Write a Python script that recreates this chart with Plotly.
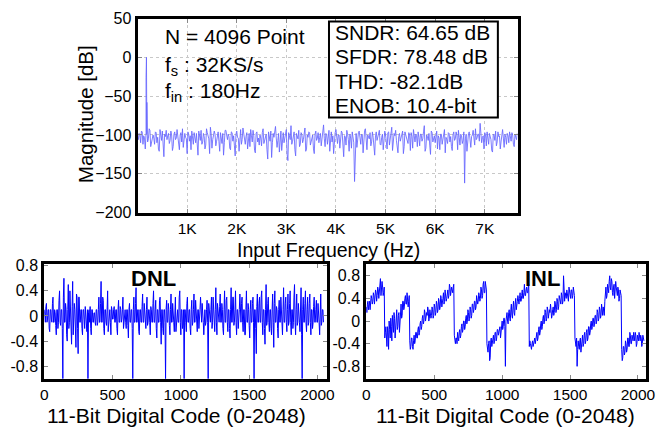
import numpy as np
import plotly.graph_objects as go

# ---------------- data ----------------
FS = 32000          # sample rate, S/s
N_FFT = 4096        # FFT length
BIN_STEP = 4        # spacing (in FFT bins) of each listed spectrum series

# output spectrum noise floor (dB), bins 0, 4, 8, ...
noise_db = [
    -103, -98, -110, -96, -101, -118, -99, -105, -94, -108, -100, -112, -97, -103, -121, -99, -95, -128, -102, -106,
    -98, -107, -100, -115, -96, -104, -101, -119, -97, -92, -108, -103, -124, -99, -101, -95, -112, -104, -98, -126,
    -100, -94, -109, -102, -113, -97, -105, -90, -117, -101, -99, -108, -96, -121, -103, -98, -110, -94, -106, -102,
    -119, -97, -101, -127, -95, -104, -99, -112, -91, -106, -102, -118, -98, -93, -109, -101, -123, -96, -104, -100,
    -114, -92, -107, -99, -131, -101, -95, -110, -103, -89, -116, -98, -105, -120, -97, -102, -93, -133, -100, -88,
    -108, -96, -127, -101, -94, -112, -99, -106, -91, -118, -103, -97, -109, -100, -124, -95, -104, -110, -98, -102,
    -87, -115, -99, -105, -121, -96, -101, -108, -93, -111, -100, -103, -97, -128, -102, -94, -106, -99, -117, -101,
    -160, -98, -104, -95, -112, -100, -107, -92, -119, -102, -97, -109, -103, -126, -96, -101, -94, -113, -99, -105,
    -100, -118, -96, -103, -90, -111, -101, -107, -123, -98, -104, -95, -115, -100, -106, -97, -120, -102, -93, -109,
    -101, -96, -114, -99, -105, -88, -117, -102, -98, -125, -97, -104, -110, -95, -101, -119, -99, -106, -93, -103,
    -111, -98, -102, -120, -96, -105, -100, -94, -113, -101, -107, -162, -99, -103, -96, -116, -100, -108, -92, -104,
    -99, -85, -110, -101, -97, -114, -103, -98, -106, -122, -100, -95, -109, -102, -118, -97, -104, -99, -112, -101,
    -96, -108, -100, -115, -103, -98,
]

# output spectrum noise floor (dB), bins 2, 6, 10, ...
noise_db_mid = [
    -106, -100, -95, -112, -104, -97, -109, -92, -115, -101, -104, -96, -110, -118, -93, -107, -113, -99, -94, -101,
    -111, -95, -120, -99, -106, -93, -113, -100, -109, -116, -98, -105, -96, -108, -119, -102, -97, -110, -122, -95,
    -107, -112, -98, -118, -92, -103, -124, -99, -106, -95, -114, -101, -108, -97, -111, -126, -94, -104, -99, -117,
    -96, -108, -114, -99, -103, -121, -93, -106, -100, -112, -97, -105, -115, -101, -94, -120, -98, -109, -113, -104,
    -97, -111, -100, -119, -96, -108, -129, -98, -91, -104, -107, -122, -95, -101, -110, -99, -125, -97, -106, -112,
    -101, -119, -98, -105, -115, -97, -110, -93, -121, -100, -96, -113, -102, -118, -99, -107, -97, -103, -114, -95,
    -105, -98, -112, -94, -103, -109, -124, -97, -106, -100, -117, -95, -108, -101, -113, -99, -121, -104, -96, -110,
    -102, -116, -97, -108, -99, -123, -94, -111, -100, -105, -114, -96, -120, -101, -107, -98, -112, -103, -119, -95,
    -109, -97, -113, -101, -120, -98, -94, -115, -102, -108, -99, -124, -96, -105, -111, -100, -97, -117, -104, -99,
    -115, -103, -99, -108, -96, -121, -100, -107, -113, -95, -109, -101, -97, -118, -104, -99, -112, -95, -123, -106,
    -97, -109, -115, -100, -107, -96, -119, -103, -99, -111, -96, -105, -121, -98, -110, -102, -94, -113, -106, -99,
    -108, -97, -103, -118, -100, -96, -112, -105, -120, -99, -107, -114, -96, -101, -109, -93, -116, -103, -98, -110,
    -103, -97, -112, -99, -106,
]

# input tone at 180 Hz and its neighbouring bins
tone_freq_hz = [164, 172, 180, 188, 196]
tone_db = [-104, -26, 0, -58, -98]

CODE_STEP = 8       # spacing (in codes) of each listed linearity series

# DNL (LSB), codes 0, 8, 16, ...
dnl_lsb = [
    0.1, -0.1, 0.2, -0.05, 0.1, -0.25, 0.1, -0.1, 0.3, -0.1, 0.05, -0.3, 0.1, -0.1, 0.4, -0.15,
    0.1, -1.0, 0.6, -0.1, 0.1, -0.4, 0.5, -0.1, 0.15, -0.45, 0.55, -0.1, 0.1, -0.5, 0.3, -0.6,
    0.3, -0.1, 0.1, -0.3, 0.1, -0.2, 0.05, -0.25, -1.0, 0.1, 0.15, -0.3, 0.1, -0.1, 0.05, -0.15,
    0.1, -0.1, 0.3, -0.1, 0.55, -0.1, 0.25, -0.3, 0.1, -0.15, 0.4, -0.1, 0.1, -0.3, 0.1, -0.05,
    0.15, -0.1, 0.1, -0.3, 0.25, -0.1, 0.1, -0.05, 0.3, -0.1, 0.1, -0.2, 0.1, -0.35, 0.2, -0.1,
    0.1, -1.0, 0.3, -0.1, 0.45, -0.1, 0.1, -0.3, 0.1, -0.1, 0.35, -0.1, 0.1, -0.2, 0.3, -0.1,
    0.1, -0.3, 0.1, -0.1, 0.4, -0.1, 0.25, -0.35, 0.1, -0.1, 0.3, -0.45, 0.1, -0.3, 0.1, -1.0,
    0.25, -0.1, 0.1, -0.3, 0.35, -0.1, 0.1, -0.25, 0.3, -0.1, 0.1, -0.1, 0.4, -0.3, 0.1, -0.15,
    -1.0, 0.1, -0.25, 0.3, -0.1, 0.1, -0.3, 0.25, -0.1, 0.35, -0.1, 0.1, -0.25, 0.1, -0.1, 0.3,
    -0.1, 0.1, -0.3, 0.1, -0.1, 0.25, -1.0, 0.1, -0.1, 0.3, -0.1, 0.1, -0.25, 0.45, -0.3, 0.1,
    -0.1, 0.35, -0.1, 0.1, -0.3, 0.4, -0.1, 0.3, -0.25, 0.1, -0.35, 0.45, -0.1, 0.3, -0.1, 0.4,
    -0.3, 0.1, -0.1, 0.35, -0.1, 0.3, -0.25, 0.1, -0.3, 0.4, -0.1, 0.1, -0.35, 0.25, -0.1, 0.3,
    -1.0, 0.1, -0.6, 0.35, -0.1, 0.3, -0.1, 0.4, -0.3, 0.1, -0.45, 0.5, -0.1, 0.3, -0.25, 0.1,
    -0.3, 0.35, -0.5, 0.4, -0.1, 0.1, -0.35, 0.25, -0.1, 0.1, -0.3, 0.45, -0.1, 0.3, -0.25, 0.35,
    -0.1, 0.4, -0.3, 0.1, -0.1, 0.5, -0.3, 0.35, -0.1, 0.1, -0.25, 0.45, -1.0, 0.3, -0.1, 0.4,
    -0.25, 0.3, -0.1, 0.35, -0.3, 0.1, -0.1, 0.3, -0.1, 0.25, -0.1, 0.1, -0.3, 0.35, -0.1, 0.1,
]

# DNL (LSB), codes 4, 12, 20, ...
dnl_lsb_mid = [
    -0.1, 0.15, -0.1, 0.1, -0.2, 0.1, -0.05, 0.2, -0.1, 0.1, -0.15, 0.1, -0.2, 0.25, -0.1, 0.1,
    -0.2, 0.3, -0.1, 0.2, -0.3, 0.1, -0.2, 0.4, -0.1, 0.15, -0.3, 0.2, -0.1, 0.35, -0.2, 0.3,
    -0.1, 0.1, -0.2, 0.1, -0.05, 0.15, -0.1, 0.1, 0.05, -0.1, -0.2, 0.1, -0.1, 0.05, -0.1, 0.1,
    -0.15, 0.1, -0.1, 0.2, -0.1, 0.3, -0.2, 0.1, -0.1, 0.1, -0.25, 0.1, -0.1, 0.15, -0.05, 0.1,
    -0.1, 0.1, -0.2, 0.1, -0.1, 0.15, -0.1, 0.1, -0.2, 0.05, -0.1, 0.1, -0.15, 0.1, -0.1, 0.1,
    -0.2, 0.1, -0.1, 0.2, -0.1, 0.1, -0.25, 0.1, -0.1, 0.15, -0.1, 0.2, -0.1, 0.1, -0.15, 0.1,
    -0.1, 0.15, -0.1, 0.2, -0.1, 0.1, -0.2, 0.1, -0.1, 0.25, -0.1, 0.1, -0.2, 0.1, -0.1, 0.1,
    -0.1, 0.2, -0.15, 0.1, -0.1, 0.2, -0.1, 0.1, -0.25, 0.1, -0.1, 0.3, -0.1, 0.1, -0.2, 0.1,
    0.1, -0.1, 0.2, -0.1, 0.1, -0.2, 0.1, -0.15, 0.1, -0.1, 0.25, -0.1, 0.1, -0.2, 0.1, -0.1,
    0.2, -0.1, 0.1, -0.15, 0.1, -0.1, 0.2, -0.1, 0.1, -0.2, 0.3, -0.1, 0.1, -0.1, 0.2, -0.1,
    0.15, -0.1, 0.2, -0.2, 0.1, -0.1, 0.25, -0.1, 0.1, -0.2, 0.1, -0.1, 0.3, -0.15, 0.1, -0.1,
    0.1, -0.2, 0.1, -0.1, 0.2, -0.1, 0.1, -0.3, 0.1, -0.1, 0.2, -0.15, 0.1, -0.1, 0.2, -0.1,
    0.1, -0.2, 0.15, -0.1, 0.2, -0.1, 0.3, -0.1, 0.1, -0.2, 0.1, -0.15, 0.2, -0.1, 0.1, -0.2,
    0.1, -0.1, 0.2, -0.1, 0.15, -0.2, 0.1, -0.1, 0.3, -0.2, 0.1, -0.1, 0.2, -0.1, 0.1, -0.15,
    0.2, -0.1, 0.1, -0.2, 0.3, -0.1, 0.1, -0.15, 0.2, -0.1, 0.1, -0.3, 0.1, -0.1, 0.2, -0.1,
    0.1, -0.15, 0.2, -0.1, 0.1, -0.2, 0.15, -0.1, 0.1, -0.1, 0.2, -0.1, 0.1, -0.15, 0.1, -0.1,
]

# INL (LSB), codes 0, 8, 16, ...
inl_lsb = [
    0.25, 0.3, 0.2, 0.35, 0.3, 0.4, 0.35, 0.45, 0.4, 0.5, 0.45, 0.55, 0.5, 0.75, 0.55, 0.6, 0.5,
    -0.3, -0.1, -0.45, -0.2, 0.0, -0.3, -0.1, 0.1, -0.2, 0.05, -0.05, 0.2, -0.1, 0.15, 0.0, 0.3,
    0.1, 0.35, 0.25, 0.45, 0.3, 0.4, 0.35,
    -0.35, -0.45, -0.3, -0.5, -0.25, -0.35, -0.2, -0.3, -0.1, -0.2, 0.0, -0.1, 0.1, 0.0, 0.15, 0.05,
    0.1, 0.2, 0.05, 0.15, 0.1, 0.2, 0.1, 0.25, 0.15, 0.3, 0.2, 0.35, 0.25, 0.4, 0.3, 0.5, 0.35,
    0.45, 0.4, 0.55, 0.45, 0.6, 0.5, 0.55, 0.6,
    -0.25, -0.4, -0.3, -0.2, -0.35, -0.15, -0.25, -0.05, -0.15, 0.0, -0.1, 0.1, 0.0, 0.15, 0.05,
    0.2, 0.1, 0.3, 0.2, 0.35, 0.25, 0.4, 0.35, 0.45, 0.4, 0.55, 0.45, 0.7, 0.5, 0.6,
    -0.4, -0.55, -0.35, -0.65, -0.3, -0.4, -0.25, -0.35, -0.2, -0.3, -0.15, -0.2, -0.1, -0.2, 0.0,
    -0.1, 0.05, -0.8, 0.1, 0.0, 0.15, 0.05, 0.2, 0.1, 0.25, 0.15, 0.3, 0.2, 0.35, 0.3, 0.4, 0.35,
    0.45, 0.4, 0.5, 0.45, 0.55, 0.5, 0.6,
    -0.45, -0.4, -0.5, -0.35, -0.4, -0.3, -0.35, -0.2, -0.3, -0.1, -0.2, 0.0, -0.1, 0.1, 0.0, 0.15,
    0.05, 0.2, 0.1, 0.15, 0.2, 0.1, 0.25, 0.15, 0.3, 0.2, 0.35, 0.25, 0.4, 0.3, 0.45, 0.35, 0.4,
    0.5, 0.4, 0.45, 0.35, 0.5, 0.4, 0.55, 0.45, 0.5,
    -0.3, -0.45, -0.8, -0.35, -0.5, -0.3, -0.45, -0.25, -0.4, -0.2, -0.35, -0.15, -0.3, -0.1, -0.2,
    0.0, -0.1, 0.05, -0.05, 0.1, 0.0, 0.15, 0.05, 0.2, 0.1, 0.15, 0.25, 0.1, 0.5, 0.4, 0.65, 0.5,
    0.8, 0.55, 0.7, 0.45, 0.65, 0.5, 0.6, 0.45, 0.55, 0.4, 0.5,
    -0.5, -0.65, -0.45, -0.55, -0.4, -0.5, -0.3, -0.45, -0.25, -0.4, -0.3, -0.2, -0.35, -0.25, -0.4,
    -0.3, -0.2, -0.35, -0.3, -0.4, -0.3,
]

# INL (LSB), codes 4, 12, 20, ...
inl_lsb_mid = [
    0.15, 0.35, 0.3, 0.2, 0.45, 0.3, 0.5, 0.3, 0.55, 0.35, 0.6, 0.4, 0.65, 0.45, 0.7, 0.45, 0.6,
    -0.2, -0.35, -0.1, -0.5, -0.15, 0.05, -0.35, 0.0, 0.15, -0.3, 0.2, -0.15, 0.1, -0.2, 0.25, 0.05,
    0.35, 0.2, 0.4, 0.3, 0.5, 0.25, 0.45,
    -0.5, -0.3, -0.45, -0.35, -0.4, -0.2, -0.3, -0.15, -0.25, -0.05, -0.15, 0.05, -0.05, 0.2, 0.0,
    0.15, 0.25, 0.0, 0.2, 0.05, 0.25, 0.05, 0.3, 0.1, 0.35, 0.15, 0.4, 0.2, 0.45, 0.25, 0.4, 0.3,
    0.55, 0.35, 0.5, 0.4, 0.65, 0.45, 0.6, 0.5, 0.65,
    -0.35, -0.3, -0.4, -0.3, -0.2, -0.3, -0.1, -0.2, 0.0, -0.15, 0.05, -0.05, 0.2, 0.0, 0.25, 0.05,
    0.3, 0.15, 0.35, 0.2, 0.45, 0.3, 0.5, 0.35, 0.6, 0.4, 0.65, 0.5, 0.7, 0.55,
    -0.5, -0.4, -0.7, -0.35, -0.45, -0.3, -0.4, -0.2, -0.35, -0.15, -0.25, -0.1, -0.3, -0.05, -0.15,
    0.05, -0.1, 0.0, 0.15, -0.05, 0.2, 0.0, 0.3, 0.05, 0.35, 0.1, 0.4, 0.25, 0.45, 0.3, 0.5, 0.35,
    0.55, 0.4, 0.65, 0.45, 0.6, 0.5, 0.65,
    -0.35, -0.5, -0.4, -0.45, -0.3, -0.4, -0.25, -0.35, -0.15, -0.25, -0.05, -0.15, 0.05, -0.05, 0.2,
    0.0, 0.25, 0.05, 0.2, 0.3, 0.05, 0.2, 0.1, 0.35, 0.15, 0.4, 0.2, 0.45, 0.3, 0.5, 0.3, 0.8, 0.35,
    0.45, 0.55, 0.35, 0.6, 0.4, 0.55, 0.4, 0.6, 0.45,
    -0.45, -0.3, -0.5, -0.45, -0.35, -0.55, -0.3, -0.45, -0.25, -0.4, -0.2, -0.35, -0.1, -0.25, -0.05,
    -0.15, 0.05, -0.1, 0.1, -0.05, 0.2, 0.0, 0.25, 0.05, 0.3, 0.1, 0.2, 0.35, 0.6, 0.45, 0.55, 0.7,
    0.6, 0.75, 0.5, 0.6, 0.4, 0.7, 0.45, 0.6, 0.35, 0.55, 0.45,
    -0.7, -0.45, -0.6, -0.35, -0.55, -0.3, -0.45, -0.2, -0.4, -0.25, -0.35, -0.3, -0.2, -0.45, -0.25,
    -0.35, -0.3, -0.25, -0.45, -0.25, -0.35,
]

freq_ticks = [1000, 2000, 3000, 4000, 5000, 6000, 7000]
freq_tick_text = ["1K", "2K", "3K", "4K", "5K", "6K", "7K"]
mag_ticks = [-200, -150, -100, -50, 0, 50]
code_ticks = [0, 500, 1000, 1500, 2000]
lsb_ticks = [-0.8, -0.4, 0, 0.4, 0.8]
lsb_tick_text = ["-0.8", "-0.4", "0", "0.4", "0.8"]

metrics = ["SNDR: 64.65 dB", "SFDR: 78.48 dB", "THD: -82.1dB", "ENOB: 10.4-bit"]


# ---------------- derived series ----------------
def interleave(a, b):
    out = np.empty(len(a) + len(b))
    out[0::2] = a
    out[1::2] = b
    return out


bin_hz = FS / N_FFT
noise_freq = interleave(np.arange(len(noise_db)) * bin_hz * BIN_STEP,
                        (np.arange(len(noise_db_mid)) + 0.5) * bin_hz * BIN_STEP)
noise_mag = interleave(noise_db, noise_db_mid)
freq_all = np.concatenate([noise_freq, tone_freq_hz])
mag_all = np.concatenate([noise_mag, tone_db])
order = np.argsort(freq_all, kind="stable")
freq_all, mag_all = freq_all[order], mag_all[order]

dnl_code = interleave(np.arange(len(dnl_lsb)) * CODE_STEP,
                      (np.arange(len(dnl_lsb_mid)) + 0.5) * CODE_STEP)
dnl_all = interleave(dnl_lsb, dnl_lsb_mid)
inl_code = interleave(np.arange(len(inl_lsb)) * CODE_STEP,
                      (np.arange(len(inl_lsb_mid)) + 0.5) * CODE_STEP)
inl_all = interleave(inl_lsb, inl_lsb_mid)

# ---------------- figure ----------------
W, H = 661, 431
FONT = "Liberation Sans, Arial, sans-serif"


def px(x):
    return x / W


def py(y):
    return 1 - y / H


fig = go.Figure()
fig.add_trace(go.Scatter(x=freq_all, y=mag_all, mode="lines",
                         line=dict(color="rgb(100,100,255)", width=0.85),
                         xaxis="x", yaxis="y", hoverinfo="skip"))
fig.add_trace(go.Scatter(x=dnl_code, y=dnl_all, mode="lines",
                         line=dict(color="rgb(0,0,255)", width=1.0),
                         xaxis="x2", yaxis="y2", hoverinfo="skip"))
fig.add_trace(go.Scatter(x=inl_code, y=inl_all, mode="lines",
                         line=dict(color="rgb(0,0,255)", width=1.0),
                         xaxis="x3", yaxis="y3", hoverinfo="skip"))

axis_common = dict(showline=True, linewidth=3, linecolor="black", mirror="ticks",
                   ticks="inside", ticklen=4, tickcolor="#888888", zeroline=False)
xfont = dict(family=FONT, size=15.5, color="black")
yfont = dict(family=FONT, size=16, color="black")

fig.update_layout(
    width=W, height=H, margin=dict(l=0, r=0, t=0, b=0),
    paper_bgcolor="white", plot_bgcolor="white", showlegend=False,
    font=dict(family=FONT, color="black"),
    xaxis=dict(axis_common, domain=[px(136), px(523)], anchor="y", tickfont=xfont,
               range=[0, 7660], tickvals=freq_ticks, ticktext=freq_tick_text,
               showgrid=True, gridcolor="#c8c8c8", griddash="dot", gridwidth=1),
    yaxis=dict(axis_common, domain=[py(213), py(11)], anchor="x", tickfont=yfont,
               range=[-200, 50], tickvals=mag_ticks,
               showgrid=True, gridcolor="#c8c8c8", griddash="dot", gridwidth=1),
    xaxis2=dict(axis_common, domain=[px(41), px(329)], anchor="y2", tickfont=xfont,
                range=[0, 2070], tickvals=code_ticks, showgrid=False),
    yaxis2=dict(axis_common, domain=[py(386), py(267)], anchor="x2", tickfont=yfont,
                range=[-1.0, 0.82], tickvals=lsb_ticks, ticktext=lsb_tick_text, showgrid=False),
    xaxis3=dict(axis_common, domain=[px(369), px(654)], anchor="y3", tickfont=xfont,
                range=[0, 2060], tickvals=code_ticks, showgrid=False),
    yaxis3=dict(axis_common, domain=[py(386), py(267)], anchor="x3", tickfont=yfont,
                range=[-1.02, 1.0], tickvals=lsb_ticks, ticktext=lsb_tick_text, showgrid=False),
)

annotations = []


def label(text, x, y, size, xanchor="center", angle=0, bold=False):
    if bold:
        text = f"<b>{text}</b>"
    annotations.append(dict(text=text, x=px(x), y=py(y), xref="paper", yref="paper",
                            xanchor=xanchor, yanchor="middle", showarrow=False,
                            textangle=angle, font=dict(family=FONT, size=size, color="black")))


# axis titles
label("Magnitude [dB]", 83, 110, 20.5, angle=-90)
label("Input Frequency (Hz)", 330, 252, 19.5)
label("11-Bit Digital Code (0-2048)", 176, 424, 21)
label("11-Bit Digital Code (0-2048)", 511, 424, 21)

# measurement conditions
label("N = 4096 Point", 162, 30, 21, xanchor="left")
label("f<sub>s</sub> : 32KS/s", 162, 60, 21, xanchor="left")
label("f<sub>in</sub> : 180Hz", 162, 87, 21, xanchor="left")

# performance summary box
fig.add_shape(type="rect", xref="paper", yref="paper",
              x0=px(331), x1=px(503), y0=py(114), y1=py(14),
              line=dict(color="black", width=2), fillcolor="white", layer="above")
for i, m in enumerate(metrics):
    label(m, 335, 25 + i * 25.5, 21, xanchor="left")

# panel labels
label("DNL", 152, 282, 22, bold=True)
label("INL", 548, 282, 22, bold=True)

fig.update_layout(annotations=annotations)
fig.write_html("out.html")
